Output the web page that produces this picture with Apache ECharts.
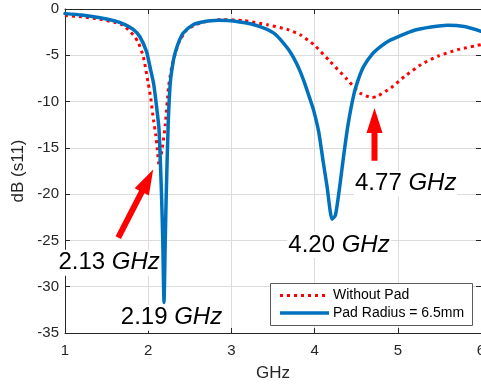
<!DOCTYPE html>
<html>
<head>
<meta charset="utf-8">
<script src="https://cdn.jsdelivr.net/npm/echarts@6/dist/echarts.min.js"></script>
<style>html,body{margin:0;padding:0;background:#fff;overflow:hidden;}#c{width:481px;height:385px;}</style>
</head>
<body>
<div id="c"></div>
<script>
// ---- data ----
const seriesNames = ['Without Pad', 'Pad Radius = 6.5mm'];
const xTicks = [1, 2, 3, 4, 5, 6];
const yTicks = [0, -5, -10, -15, -20, -25, -30, -35];

const noPadX = [1.00, 1.20, 1.42, 1.60, 1.70, 1.82, 1.88, 1.94, 2.00, 2.03, 2.064, 2.09, 2.11, 2.13, 2.17, 2.205, 2.245, 2.285, 2.365, 2.47, 2.63, 2.87, 3.15, 3.43, 3.67, 3.83, 3.99, 4.19, 4.39, 4.55, 4.69, 4.75, 4.92, 5.08, 5.28, 5.48, 5.72, 6.00];
const noPadY = [-0.7, -0.85, -1.1, -1.45, -1.75, -2.8, -3.6, -5.1, -8.0, -9.6, -12.0, -13.5, -15.2, -16.8, -15.0, -12.5, -8.4, -6.2, -3.7, -2.2, -1.5, -1.15, -1.26, -1.7, -2.2, -2.8, -3.85, -5.7, -7.6, -9.1, -9.55, -9.45, -8.5, -7.3, -6.0, -5.1, -4.4, -3.85];

const padX = [1.00, 1.20, 1.42, 1.60, 1.70, 1.82, 1.90, 1.98, 2.02, 2.064, 2.10, 2.13, 2.16, 2.175, 2.19, 2.205, 2.217, 2.24, 2.265, 2.30, 2.325, 2.37, 2.42, 2.54, 2.65, 2.75, 2.85, 2.95, 3.10, 3.23, 3.40, 3.51, 3.59, 3.68, 3.75, 3.82, 3.88, 3.94, 3.99, 4.05, 4.10, 4.15, 4.21, 4.25, 4.30, 4.35, 4.40, 4.47, 4.53, 4.59, 4.70, 4.80, 4.90, 5.00, 5.20, 5.40, 5.60, 5.80, 6.00];
const padY = [-0.5, -0.65, -0.95, -1.3, -1.6, -2.2, -3.0, -4.6, -6.2, -8.0, -10.5, -13.0, -20.0, -25.0, -31.7, -25.0, -20.0, -12.5, -8.0, -5.7, -4.7, -3.5, -2.6, -1.7, -1.4, -1.26, -1.22, -1.25, -1.4, -1.6, -2.1, -2.6, -3.3, -4.3, -5.3, -6.6, -8.0, -9.6, -11.0, -13.3, -16.3, -19.2, -22.7, -22.3, -19.3, -15.8, -12.6, -9.3, -7.5, -6.2, -4.8, -4.0, -3.4, -3.0, -2.3, -1.95, -1.75, -1.9, -2.4];

// annotations (data coordinates)
const labelTexts = ['2.13 GHz', '2.19 GHz', '4.20 GHz', '4.77 GHz'];
const labelX = [1.53, 2.28, 4.293, 5.095];
const labelY = [-27.4, -33.34, -25.5, -18.87];
const arrowFrom = [[1.64, -24.7], [4.72, -16.4]];
const arrowTo = [[2.06, -17.35], [4.72, -10.7]];

// ---- chart ----
const TXT = '#262626';
const FONT = 'Liberation Sans, Arial, Helvetica, sans-serif';
const chart = echarts.init(document.getElementById('c'), null, {renderer: 'canvas', width: 481, height: 385});

function zip(xs, ys) { return xs.map((x, i) => [x, ys[i]]); }

const axisCommon = {
  type: 'value',
  axisLine: {show: true, onZero: false, lineStyle: {color: TXT, width: 1}},
  axisTick: {show: true, inside: true, length: 5, lineStyle: {color: TXT}},
};

chart.setOption({
  animation: false,
  backgroundColor: '#fff',
  grid: {left: 65, right: 0, top: 9, bottom: 52, containLabel: false, outerBoundsMode: 'none'},
  xAxis: [
    Object.assign({}, axisCommon, {
      min: xTicks[0], max: xTicks[xTicks.length - 1], interval: 1,
      position: 'bottom',
      name: 'GHz', nameLocation: 'middle', nameGap: 32,
      nameTextStyle: {color: TXT, fontSize: 17, fontFamily: FONT},
      axisLabel: {color: TXT, fontSize: 15, fontFamily: FONT, margin: 10},
      splitLine: {show: true, lineStyle: {color: '#dcdcdc', width: 1}}
    }),
    Object.assign({}, axisCommon, {
      min: xTicks[0], max: xTicks[xTicks.length - 1], interval: 1,
      position: 'top', axisLabel: {show: false}, splitLine: {show: false}
    })
  ],
  yAxis: [
    Object.assign({}, axisCommon, {
      min: yTicks[yTicks.length - 1], max: yTicks[0], interval: 5,
      position: 'left',
      name: 'dB (s11)', nameLocation: 'middle', nameGap: 36,
      nameTextStyle: {color: TXT, fontSize: 17, fontFamily: FONT},
      axisLabel: {color: TXT, fontSize: 15, fontFamily: FONT, margin: 6},
      splitLine: {show: true, lineStyle: {color: '#dcdcdc', width: 1}}
    }),
    Object.assign({}, axisCommon, {
      min: yTicks[yTicks.length - 1], max: yTicks[0], interval: 5,
      position: 'right', axisLabel: {show: false}, splitLine: {show: false}
    })
  ],
  series: [
    {
      name: seriesNames[0], type: 'line', data: zip(noPadX, noPadY),
      showSymbol: false, symbol: 'none', z: 3, smooth: 0.2,
      lineStyle: {color: '#ff0000', width: 3, type: [3, 4], cap: 'butt'}
    },
    {
      name: seriesNames[1], type: 'line', data: zip(padX, padY),
      showSymbol: false, symbol: 'none', z: 4, smooth: 0.2,
      lineStyle: {color: '#0072bd', width: 3.5, cap: 'round', join: 'round'}
    }
  ]
});

function arrowPoly(p0, p1, headLen, headW, shaftW) {
  const dx = p1[0] - p0[0], dy = p1[1] - p0[1];
  const L = Math.hypot(dx, dy);
  const ux = dx / L, uy = dy / L, nx = -uy, ny = ux;
  const bx = p1[0] - ux * headLen, by = p1[1] - uy * headLen;
  return [
    [p0[0] + nx * shaftW / 2, p0[1] + ny * shaftW / 2],
    [bx + nx * shaftW / 2, by + ny * shaftW / 2],
    [bx + nx * headW / 2, by + ny * headW / 2],
    [p1[0], p1[1]],
    [bx - nx * headW / 2, by - ny * headW / 2],
    [bx - nx * shaftW / 2, by - ny * shaftW / 2],
    [p0[0] - nx * shaftW / 2, p0[1] - ny * shaftW / 2]
  ];
}

const elements = [];
for (let i = 0; i < arrowFrom.length; i++) {
  const a = chart.convertToPixel({gridIndex: 0}, arrowFrom[i]);
  const b = chart.convertToPixel({gridIndex: 0}, arrowTo[i]);
  elements.push({
    type: 'polygon', z: 100,
    shape: {points: arrowPoly(a, b, 25, 16, 6)},
    style: {fill: '#ff0000'}
  });
}
for (let i = 0; i < labelTexts.length; i++) {
  const p = chart.convertToPixel({gridIndex: 0}, [labelX[i], labelY[i]]);
  const parts = labelTexts[i].split(' ');
  elements.push({
    type: 'text', z: 100, x: p[0], y: p[1],
    style: {
      text: '{n|' + parts[0] + ' }{u|' + parts[1] + '}',
      align: 'center', verticalAlign: 'middle',
      backgroundColor: '#fff', padding: [1, 1, 1, 1],
      rich: {
        n: {fontSize: 24, fontFamily: FONT, fill: '#000', color: '#000'},
        u: {fontSize: 24, fontFamily: FONT, fontStyle: 'italic', fill: '#000', color: '#000'}
      }
    }
  });
}

// legend box (anchored to plot's lower-right corner)
const W = chart.getWidth(), H = chart.getHeight();
const gridRect = {right: W, bottom: H - 52};
const lgW = 202, lgH = 42;
const lgX = gridRect.right - 9 - lgW, lgY = gridRect.bottom - 8 - lgH;
elements.push({
  type: 'rect', z: 110,
  shape: {x: lgX + 0.5, y: lgY + 0.5, width: lgW, height: lgH},
  style: {fill: '#fff', stroke: '#5a5a5a', lineWidth: 1}
});
const lgRows = [
  {y: lgY + 12.5, stroke: '#ff0000', dash: [3, 4], width: 3},
  {y: lgY + 30, stroke: '#0072bd', dash: null, width: 3.5}
];
lgRows.forEach((r, i) => {
  elements.push({
    type: 'line', z: 111,
    shape: {x1: lgX + 10, y1: r.y, x2: lgX + 59, y2: r.y},
    style: {stroke: r.stroke, lineWidth: r.width, lineDash: r.dash, lineCap: 'butt'}
  });
  elements.push({
    type: 'text', z: 111, x: lgX + 63, y: r.y,
    style: {text: seriesNames[i], fontSize: 14, fontFamily: FONT, fill: '#000', verticalAlign: 'middle', align: 'left'}
  });
});

chart.setOption({graphic: {elements: elements}});
</script>
</body>
</html>
